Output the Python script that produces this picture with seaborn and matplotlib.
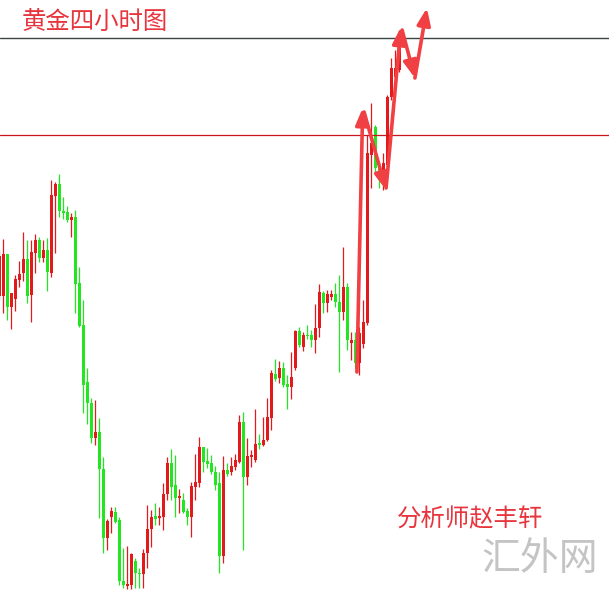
import numpy as np
import pandas as pd
import matplotlib
matplotlib.use("Agg")
import matplotlib.pyplot as plt
import seaborn as sns

# 4H gold candles
opens = [2104, 2104, 2146, 2093, 2101, 2120, 2127, 2141, 2105, 2147,
         2160, 2142, 2150, 2127, 2204, 2216, 2189, 2188, 2180, 2183,
         2117, 2075, 2018, 1997, 1962, 1968, 1931, 1862, 1883, 1888,
         1880, 1819, 1814, 1815, 1839, 1827, 1826, 1847, 1871, 1884,
         1882, 1883, 1906, 1937, 1915, 1902, 1900, 1889, 1883, 1913,
         1917, 1953, 1939, 1937, 1928, 1917, 1844, 1930, 1928, 1933,
         1938, 1978, 1923, 1943, 1940, 1957, 1955, 1960, 1982, 2026,
         2022, 2032, 2016, 2013, 2032, 2069, 2053, 2065, 2065, 2060,
         2072, 2107, 2097, 2103, 2106, 2098, 2088, 2113, 2057, 2060,
         2037, 2056, 2077, 2245, 2273, 2233, 2220, 2235, 2303, 2323,
         2330]
highs = [2150, 2161, 2146, 2107, 2125, 2139, 2168, 2160, 2160, 2166,
         2163, 2160, 2162, 2220, 2218, 2226, 2203, 2194, 2187, 2190,
         2133, 2100, 2032, 2002, 2000, 1982, 1943, 1881, 1893, 1893,
         1883, 1852, 1854, 1847, 1842, 1832, 1851, 1895, 1890, 1897,
         1893, 1917, 1943, 1951, 1945, 1911, 1907, 1892, 1918, 1946,
         1963, 1953, 1952, 1945, 1934, 1928, 1944, 1937, 1943, 1946,
         1985, 1988, 1962, 1950, 1991, 1966, 1983, 2002, 2030, 2041,
         2039, 2038, 2025, 2048, 2070, 2073, 2068, 2075, 2070, 2096,
         2116, 2109, 2110, 2110, 2117, 2125, 2153, 2117, 2068, 2068,
         2073, 2100, 2265, 2297, 2275, 2237, 2247, 2305, 2342, 2350,
         2360]
lows = [2100, 2087, 2080, 2071, 2089, 2113, 2119, 2097, 2078, 2127,
        2138, 2138, 2109, 2123, 2147, 2183, 2181, 2178, 2163, 2087,
        2073, 1987, 1976, 1957, 1955, 1882, 1847, 1850, 1867, 1877,
        1815, 1812, 1811, 1811, 1812, 1812, 1812, 1832, 1853, 1875,
        1875, 1870, 1900, 1900, 1883, 1887, 1887, 1875, 1863, 1900,
        1913, 1928, 1932, 1926, 1910, 1827, 1837, 1924, 1925, 1930,
        1937, 1850, 1915, 1933, 1938, 1951, 1954, 1959, 1970, 2019,
        2017, 2013, 1991, 2001, 2030, 2053, 2049, 2061, 2053, 2047,
        2063, 2087, 2088, 2100, 2093, 2028, 2080, 2050, 2040, 2032,
        2025, 2052, 2075, 2212, 2227, 2212, 2210, 2230, 2300, 2320,
        2328]
closes = [2144, 2146, 2093, 2107, 2121, 2126, 2141, 2104, 2148, 2160,
          2142, 2150, 2128, 2205, 2216, 2189, 2187, 2180, 2183, 2116,
          2074, 2015, 1997, 1962, 1968, 1931, 1862, 1879, 1889, 1878,
          1819, 1815, 1816, 1846, 1827, 1826, 1847, 1871, 1883, 1881,
          1884, 1906, 1937, 1913, 1902, 1904, 1888, 1883, 1914, 1918,
          1953, 1938, 1936, 1928, 1915, 1844, 1930, 1926, 1934, 1940,
          1978, 1923, 1944, 1945, 1956, 1955, 1960, 1983, 2027, 2021,
          2032, 2015, 2013, 2023, 2069, 2055, 2065, 2064, 2060, 2072,
          2108, 2097, 2106, 2106, 2098, 2088, 2113, 2060, 2060, 2037,
          2067, 2078, 2247, 2257, 2232, 2220, 2237, 2303, 2332, 2332,
          2352]

resistance = 2362
support = 2265

# hand drawn arrow path (bar index, price)
arrow_x = [89.4, 90.85, 91.2, 96.7, 96.7, 100.4, 100.7, 103.9, 103.9, 106.9]
arrow_p = [2028, 2292, 2288, 2210, 2212, 2373, 2370, 2322, 2322, 2392]

title = "黄金四小时图"
author = "分析师赵丰轩"
mark = "汇外网"

df = pd.DataFrame({"open": opens, "high": highs, "low": lows, "close": closes})
df["up"] = df["close"] >= df["open"]

sns.set_style("white")
plt.rcParams["font.family"] = ["Noto Sans CJK SC", "DejaVu Sans"]

red = "#e31a1c"
green = "#22e622"

fig = plt.figure(figsize=(6.09, 5.90), dpi=100)
ax = fig.add_axes([0, 0, 1, 1])

colors = np.where(df["up"], red, green)
x = df.index.values
ax.vlines(x, df["low"], df["high"], colors=colors, linewidth=0.9)
body_lo = df[["open", "close"]].min(axis=1)
body_h = (df["close"] - df["open"]).abs().clip(lower=1.2)
ax.bar(x, body_h, bottom=body_lo, width=0.75, color=colors, linewidth=0)

ax.axhline(resistance, color="#3a4646", linewidth=1.0)
ax.axhline(support, color="#c8161b", linewidth=0.9)

# red hand-drawn arrows
for i in range(0, len(arrow_x), 2):
    ax.annotate("", xy=(arrow_x[i + 1], arrow_p[i + 1]), xytext=(arrow_x[i], arrow_p[i]),
                arrowprops=dict(arrowstyle="-|>,head_length=1.0,head_width=0.4",
                                color="#f04044", lw=2.6, shrinkA=0, shrinkB=0))

ax.text(0.035, 0.963, title, transform=ax.transAxes, fontsize=17.6,
        color="#e8343c", va="center", ha="left")
ax.text(0.651, 0.119, author, transform=ax.transAxes, fontsize=17.6,
        color="#e8343c", va="center", ha="left")
ax.text(0.790, 0.053, mark, transform=ax.transAxes, fontsize=28,
        color="#c4c4c4", va="center", ha="left", fontweight="light")

ax.set_xlim(0.175, 152.425)
ax.set_ylim(1810, 2400)
ax.axis("off")

fig.savefig("out.png", dpi=100)
